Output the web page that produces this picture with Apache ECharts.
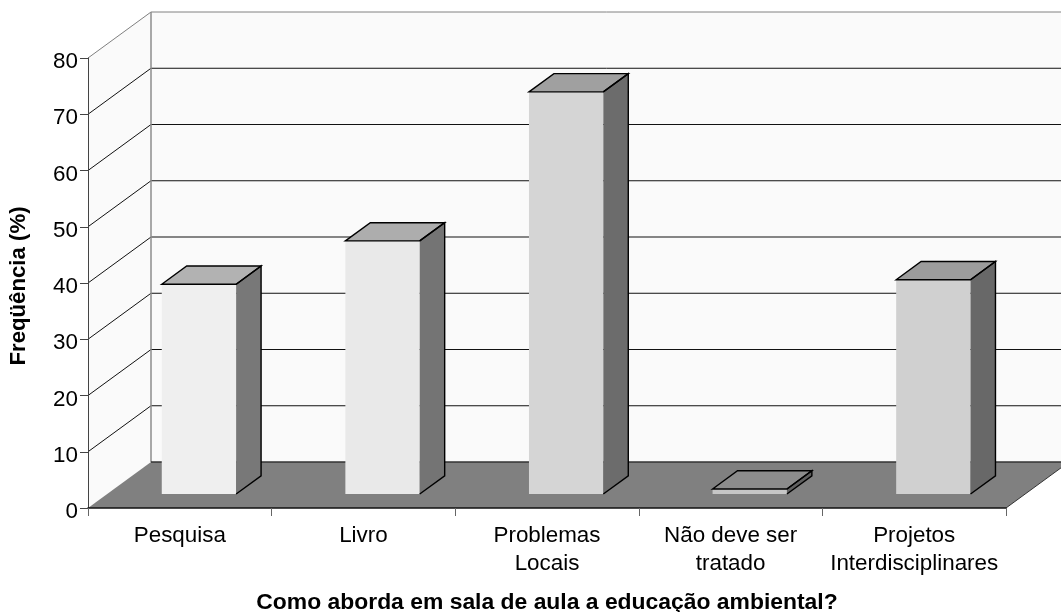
<!DOCTYPE html>
<html><head><meta charset="utf-8">
<style>html,body{margin:0;padding:0;background:#fff}#c{width:1061px;height:612px}</style>
<script src="https://cdn.jsdelivr.net/npm/echarts@6/dist/echarts.min.js"></script>
</head><body><div id="c"></div>
<script>
const categories = ['Pesquisa','Livro','Problemas\nLocais','Não deve ser\ntratado','Projetos\nInterdisciplinares'];
const values = [37.3, 45, 71.5, 0.9, 38.1];
const yTicks = [0,10,20,30,40,50,60,70,80];
const xTitle = 'Como aborda em sala de aula a educação ambiental?';
const yTitle = 'Freqüência (%)';
const frontColors = ['#EFEFEF','#E9E9E9','#D5D5D5','#C6C6C6','#D0D0D0'];
const topColors   = ['#B2B2B2','#ADADAD','#A0A0A0','#8C8C8C','#9C9C9C'];
const sideColors  = ['#787878','#747474','#6C6C6C','#606060','#686868'];

// oblique projection of the depth axis, in pixels
const DX = 63, DY = -46;
const BAR_W = 0.405, D0 = 0.304, D1 = 0.70;

function frameItem(params, api){
  const band = api.size([1,0])[0];
  const L = api.coord([0,0])[0]-band/2;
  const R = api.coord([categories.length-1,0])[0]+band/2;
  const yOf = v => api.coord([0,v])[1];
  const y0 = yOf(0), yT = yOf(80);
  const poly = (pts,fill,stroke,w) => ({type:'polygon',shape:{points:pts},style:{fill:fill,stroke:stroke||null,lineWidth:w||0}});
  const line = (a,b,c,w) => ({type:'line',shape:{x1:a[0],y1:a[1],x2:b[0],y2:b[1]},style:{stroke:c,lineWidth:w||1}});
  const ch = [];
  ch.push(poly([[L+DX,yT+DY],[R+DX,yT+DY],[R+DX,y0+DY],[L+DX,y0+DY]],'#FAFAFA'));
  ch.push(poly([[L,y0],[L+DX,y0+DY],[L+DX,yT+DY],[L,yT]],'#FAFAFA'));
  yTicks.forEach(v=>{
    const y = yOf(v);
    if(v===0) return;
    const c = v===80 ? '#808080' : '#111';
    ch.push(line([L,y],[L+DX,y+DY],c));
    ch.push(line([L+DX,y+DY],[R+DX,y+DY],c));
  });
  ch.push(line([L+DX,yT+DY],[L+DX,y0+DY],'#8C8C8C',1.5));
  ch.push(poly([[L,y0],[L+DX,y0+DY],[R+DX,y0+DY],[R,y0]],'#808080'));
  ch.push(line([L+DX,y0+DY],[R+DX,y0+DY],'#333',1.5));
  ch.push(line([R,y0],[R+DX,y0+DY],'#333',1));
  return {type:'group',children:ch};
}
function barItem(params, api){
  const i = params.dataIndex;
  const band = api.size([1,0])[0];
  const base = api.coord([api.value(0),0]);
  const topP = api.coord([api.value(0),api.value(1)]);
  const w = band*BAR_W;
  const x0 = base[0]-w/2+DX*D0, x1 = x0+w;
  const yb = base[1]+DY*D0, yt = topP[1]+DY*D0;
  const dx = DX*(D1-D0), dy = DY*(D1-D0);
  const poly = (pts,fill) => ({type:'polygon',shape:{points:pts},style:{fill:fill}});
  const pl = (pts,closed) => ({type:closed?'polygon':'polyline',shape:{points:pts},style:{fill:null,stroke:'#000',lineWidth:1.4}});
  return {type:'group',children:[
    poly([[x0,yt],[x1,yt],[x1,yb],[x0,yb]],frontColors[i]),
    poly([[x1,yt],[x1+dx,yt+dy],[x1+dx,yb+dy],[x1,yb]],sideColors[i]),
    poly([[x0,yt],[x0+dx,yt+dy],[x1+dx,yt+dy],[x1,yt]],topColors[i]),
    pl([[x0,yt],[x0+dx,yt+dy],[x1+dx,yt+dy],[x1,yt]],true),
    pl([[x1,yt],[x1+dx,yt+dy],[x1+dx,yb+dy],[x1,yb]],false)
  ]};
}
const chart = echarts.init(document.getElementById('c'),null,{renderer:'canvas'});
const font = 'Liberation Sans';
chart.setOption({
  animation:false,
  backgroundColor:'#fff',
  grid:{left:88,right:55,top:58,bottom:104,outerBoundsMode:'none',containLabel:false},
  xAxis:{type:'category',data:categories,z:5,
    name:xTitle,nameLocation:'middle',nameGap:83,
    nameTextStyle:{fontFamily:font,fontSize:22.9,fontWeight:'bold',color:'#000'},
    axisLine:{show:true,lineStyle:{color:'#111',width:1.5}},
    axisTick:{show:true,length:8,alignWithLabel:false,lineStyle:{color:'#666'}},
    axisLabel:{interval:0,margin:14,fontFamily:font,fontSize:22.4,lineHeight:28,color:'#000'},
    splitLine:{show:false}},
  yAxis:{type:'value',min:0,max:80,interval:10,z:5,
    name:yTitle,nameLocation:'middle',nameGap:58,nameRotate:90,
    nameTextStyle:{fontFamily:font,fontSize:22.2,fontWeight:'bold',color:'#000',padding:[0,6,0,0]},
    axisLine:{show:true,lineStyle:{color:'#444',width:1}},
    axisTick:{show:true,length:8,lineStyle:{color:'#444'}},
    axisLabel:{margin:10,verticalAlign:'top',lineHeight:8,fontFamily:font,fontSize:22.4,color:'#000',formatter:v=>yTicks.includes(v)?String(v):''},
    splitLine:{show:false}},
  series:[
    {type:'custom',z:1,renderItem:frameItem,data:[[0,0]],silent:true},
    {type:'custom',z:2,renderItem:barItem,data:values.map((v,i)=>[i,v]),silent:true}
  ]
});
</script></body></html>
